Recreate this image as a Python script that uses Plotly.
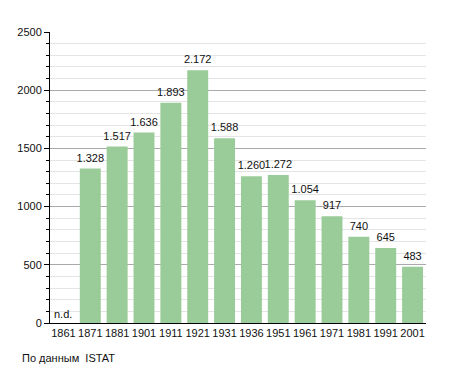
import plotly.graph_objects as go

years = ["1861", "1871", "1881", "1901", "1911", "1921", "1931", "1936", "1951", "1961", "1971", "1981", "1991", "2001"]
population = [None, 1328, 1517, 1636, 1893, 2172, 1588, 1260, 1272, 1054, 917, 740, 645, 483]
source_note = "По данным  ISTAT"
missing_label = "n.d."

labels = ["" if v is None else f"{v:,}".replace(",", ".") for v in population]
xs = list(range(len(years)))
ys = [float("nan") if v is None else v for v in population]

fig = go.Figure()
fig.add_trace(go.Bar(
    x=xs, y=ys,
    marker=dict(color="#99cc99", line=dict(width=0)),
    hoverinfo="skip",
))
fig.add_trace(go.Scatter(
    x=xs, y=ys, mode="markers+text", text=labels, textposition="top center",
    marker=dict(size=5, opacity=0),
    textfont=dict(size=11, color="#111"), cliponaxis=False, hoverinfo="skip",
))
fig.add_annotation(x=xs[0], y=0, text=missing_label, showarrow=False,
                   yanchor="bottom", xanchor="center", yshift=1,
                   font=dict(size=11, color="#111"))
fig.add_annotation(x=0, y=0, xref="paper", yref="paper", xshift=-30, yshift=-35,
                   xanchor="left", yanchor="middle", showarrow=False,
                   text=source_note, font=dict(size=11, color="#111"))
fig.update_layout(
    width=455, height=373,
    margin=dict(l=50, r=29, t=32, b=50),
    paper_bgcolor="white", plot_bgcolor="white",
    font=dict(family="Liberation Sans, Arial, sans-serif", size=11, color="#111"),
    bargap=0.22, showlegend=False,
    xaxis=dict(range=[-0.5, len(years) - 0.5], tickmode="array", tickvals=xs, ticktext=years,
               showline=True, linecolor="black", linewidth=1,
               ticks="", showgrid=False, zeroline=False, tickfont=dict(size=11)),
    yaxis=dict(range=[0, 2500], dtick=500, showline=True, linecolor="black", linewidth=1,
               ticks="outside", ticklen=5, tickcolor="black",
               showgrid=True, gridcolor="#aaaaaa", gridwidth=1, zeroline=False,
               minor=dict(dtick=100, showgrid=True, gridcolor="#e4e4e4",
                          ticks="outside", ticklen=3, tickcolor="black"),
               tickfont=dict(size=11)),
)
fig.write_html("out.html", config={"displayModeBar": False},
               post_script="document.body.style.margin='0';")
